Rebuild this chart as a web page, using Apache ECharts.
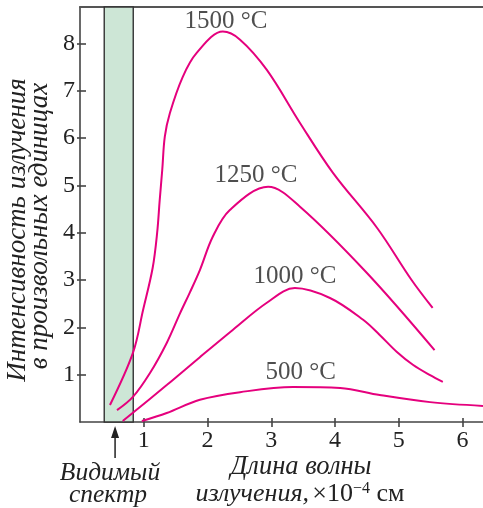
<!DOCTYPE html>
<html>
<head>
<meta charset="utf-8">
<script src="https://cdn.jsdelivr.net/npm/echarts@6/dist/echarts.min.js"></script>
<style>
html,body{margin:0;padding:0;background:#fff}
#chart{width:483px;height:508px}
</style>
</head>
<body>
<div id="chart"></div>
<script>
// тики и подписи осей
var xTicks = [1, 2, 3, 4, 5, 6];
var yTicks = [1, 2, 3, 4, 5, 6, 7, 8];
var visibleBand = [0.38, 0.835];   // видимый спектр
var arrowX = 0.55;

// кривые
var x1500 = [0.47, 0.83, 0.99, 1.14, 1.21, 1.25, 1.29, 1.33, 1.41, 1.61, 1.83, 2.24, 2.51, 2.93, 3.45, 3.97, 4.66, 5.2, 5.53];
var y1500 = [0.36, 1.46, 2.37, 3.26, 4.0, 4.69, 5.33, 6.03, 6.53, 7.29, 7.80, 8.25, 8.08, 7.44, 6.32, 5.26, 4.1, 3.0, 2.41];
var x1250 = [0.58, 0.83, 1.10, 1.36, 1.57, 1.72, 1.88, 2.08, 2.35, 2.95, 3.45, 4.5, 5.56];
var y1250 = [0.25, 0.53, 1.04, 1.67, 2.30, 2.73, 3.21, 3.91, 4.48, 4.97, 4.55, 3.15, 1.52];
var x1000 = [0.67, 1.36, 1.88, 2.40, 2.93, 3.37, 3.92, 4.44, 4.70, 4.97, 5.22, 5.49, 5.69];
var y1000 = [0.02, 0.78, 1.37, 1.95, 2.52, 2.83, 2.62, 2.16, 1.84, 1.48, 1.21, 0.99, 0.85];
var x500 = [0.97, 1.36, 1.88, 2.51, 3.34, 4.08, 4.70, 5.49, 6.32];
var y500 = [0.02, 0.19, 0.47, 0.63, 0.74, 0.72, 0.57, 0.42, 0.34];

var curveNames = ['1500 °C', '1250 °C', '1000 °C', '500 °C'];
var labelX = [2.29, 2.76, 3.37, 3.46];
var labelY = [8.46, 5.22, 3.07, 1.04];

var curveColor = '#e5007d';
var axisColor = '#444';
var serif = 'Liberation Serif';

function zip(xs, ys) {
    var res = [];
    for (var i = 0; i < xs.length; i++) res.push([xs[i], ys[i]]);
    return res;
}

var myChart = echarts.init(document.getElementById('chart'));

var curves = [[x500, y500], [x1000, y1000], [x1250, y1250], [x1500, y1500]];
var series = [];
for (var i = 0; i < curves.length; i++) {
    series.push({
        type: 'line',
        data: zip(curves[i][0], curves[i][1]),
        showSymbol: false,
        smooth: 0.35,
        lineStyle: {color: curveColor, width: 2},
        silent: true,
        z: 3
    });
}
// зелёная полоса
series[0].markArea = {
    silent: true,
    itemStyle: {color: '#cde6d6', borderColor: '#333', borderWidth: 1.4},
    data: [[{xAxis: visibleBand[0]}, {xAxis: visibleBand[1]}]]
};

var labelData = [];
for (var j = 0; j < curveNames.length; j++) labelData.push([labelX[j], labelY[j], curveNames[j]]);
series.push({
    type: 'scatter',
    data: labelData,
    symbolSize: 0,
    silent: true,
    label: {
        show: true,
        position: 'inside',
        formatter: function (p) { return p.value[2]; },
        fontFamily: serif,
        fontSize: 25,
        color: '#222'
    }
});

var xMax = 6.32, yMax = 8.77;

option = {
    animation: false,
    grid: {left: 80, top: 7, right: 0, bottom: 86},
    xAxis: [{
        type: 'value', min: 0, max: xMax, position: 'bottom',
        axisLine: {lineStyle: {color: axisColor, width: 1.6}},
        axisTick: {show: true, length: 5, customValues: xTicks, lineStyle: {color: axisColor, width: 1.6}},
        axisLabel: {customValues: xTicks, fontFamily: serif, fontSize: 24, color: '#222', margin: 7},
        splitLine: {show: false}
    }, {
        type: 'value', min: 0, max: xMax, position: 'bottom',
        axisLine: {show: false},
        axisTick: {show: true, inside: true, length: 4, customValues: xTicks, lineStyle: {color: axisColor, width: 1.6}},
        axisLabel: {show: false},
        splitLine: {show: false}
    }, {
        type: 'value', min: 0, max: xMax, position: 'top',
        axisLine: {lineStyle: {color: '#555', width: 2}},
        axisTick: {show: false}, axisLabel: {show: false}, splitLine: {show: false}
    }],
    yAxis: [{
        type: 'value', min: 0, max: yMax, position: 'left',
        axisLine: {lineStyle: {color: axisColor, width: 1.6}},
        axisTick: {show: true, length: 3, customValues: yTicks, lineStyle: {color: axisColor, width: 1.6}},
        axisLabel: {customValues: yTicks, fontFamily: serif, fontSize: 24, color: '#222', margin: 5},
        splitLine: {show: false}
    }, {
        type: 'value', min: 0, max: yMax, position: 'left',
        axisLine: {show: false},
        axisTick: {show: true, inside: true, length: 6, customValues: yTicks, lineStyle: {color: axisColor, width: 1.6}},
        axisLabel: {show: false},
        splitLine: {show: false}
    }],
    series: series
};
myChart.setOption(option);

// подписи осей и стрелка
var ax = myChart.convertToPixel({xAxisIndex: 0}, arrowX);
function ts(text, size) {
    return {text: text, fontFamily: serif, fontStyle: 'italic', fontSize: size, fill: '#222', textAlign: 'center', textVerticalAlign: 'middle'};
}

myChart.setOption({
    graphic: [
        {type: 'text', x: 18, y: 230, rotation: Math.PI / 2, style: ts('Интенсивность излучения', 27)},
        {type: 'text', x: 40, y: 226, rotation: Math.PI / 2, style: ts('в произвольных единицах', 27)},
        {type: 'text', x: 301, y: 467, style: ts('Длина волны', 26.5)},
        {type: 'text', x: 300, y: 494, style: {
            text: '{i|излучения,} {n|×10}{s|−4}{n| см}',
            textAlign: 'center', textVerticalAlign: 'middle',
            rich: {
                i: {fontFamily: serif, fontStyle: 'italic', fontSize: 26, fill: '#222'},
                n: {fontFamily: serif, fontSize: 26, fill: '#222'},
                s: {fontFamily: serif, fontSize: 16, fill: '#222', verticalAlign: 'top', padding: [0, 0, 9, 0]}
            }
        }},
        {type: 'text', x: 110, y: 473, style: ts('Видимый', 25.5)},
        {type: 'text', x: 108, y: 495, style: ts('спектр', 25.5)},
        {type: 'line', shape: {x1: ax, y1: 458, x2: ax, y2: 434}, style: {stroke: '#222', lineWidth: 1.5}},
        {type: 'polygon', shape: {points: [[ax, 426], [ax - 4, 438], [ax + 4, 438]]}, style: {fill: '#222'}}
    ]
});
</script>
</body>
</html>
